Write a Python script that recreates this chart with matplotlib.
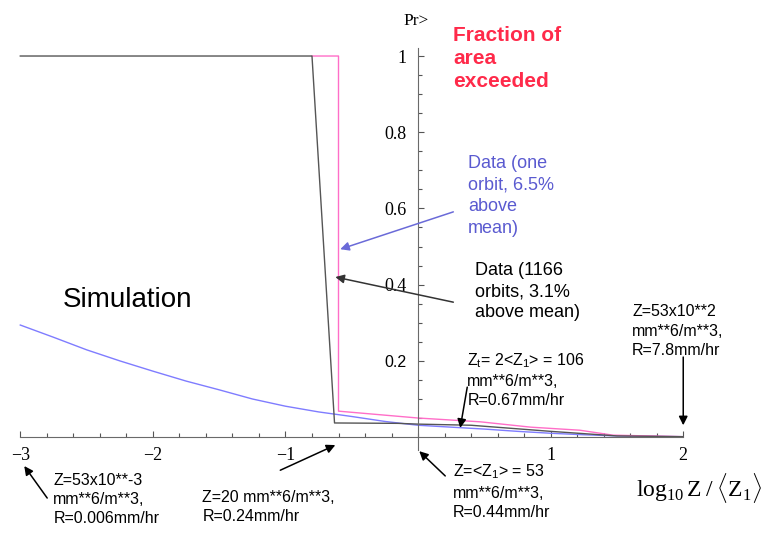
import matplotlib
matplotlib.use("Agg")
import matplotlib.pyplot as plt

plt.rcParams["mathtext.fontset"] = "custom"
plt.rcParams["mathtext.rm"] = "Liberation Serif"
plt.rcParams["mathtext.it"] = "Liberation Serif:italic"
plt.rcParams["mathtext.bf"] = "Liberation Serif:bold"
plt.rcParams["mathtext.sf"] = "Liberation Sans"

# Simulated exceedance curve
sim_x = [-3.0, -2.75, -2.5, -2.25, -2.0, -1.75, -1.5, -1.25, -1.0, -0.75, -0.5,
         -0.25, 0.0, 0.25, 0.5, 0.75, 1.0, 1.25, 1.5, 1.75, 2.0]
sim_y = [0.294, 0.262, 0.229, 0.200, 0.173, 0.147, 0.124, 0.100, 0.081, 0.066, 0.054,
         0.041, 0.031, 0.026, 0.021, 0.015, 0.010, 0.006, 0.003, 0.002, 0.001]

# Data, one orbit
one_x = [-0.80, -0.60, -0.60, 0.0, 0.47, 0.85, 1.22, 1.47, 2.0]
one_y = [1.0, 1.0, 0.068, 0.050, 0.040, 0.026, 0.018, 0.005, 0.001]

# Data, 1166 orbits
many_x = [-3.0, -0.80, -0.63, -0.15, 0.0, 0.4, 1.0, 1.5, 2.0]
many_y = [1.0, 1.0, 0.037, 0.036, 0.034, 0.031, 0.015, 0.003, 0.001]

x_ticks = [-3, -2, -1, 1, 2]
x_tick_labels = ["\u22123", "\u22122", "\u22121", "1", "2"]
y_ticks = [0.2, 0.4, 0.6, 0.8, 1.0]
y_tick_labels = ["0.2", "0.4", "0.6", "0.8", "1"]

fig = plt.figure(figsize=(7.62, 5.35), dpi=100)
ax = fig.add_axes([0, 0, 1, 1])
ax.set_xlim(-3.153, 2.594)
ax.set_ylim(-0.257, 1.147)

ax.plot(sim_x, sim_y, color="#7f7cff", lw=1.0)
ax.plot(one_x, one_y, color="#ff6ec8", lw=1.0)
ax.plot(many_x, many_y, color="#555555", lw=1.0)

# axes through the origin
for s in ["top", "right"]:
    ax.spines[s].set_visible(False)
ax.spines["bottom"].set_position(("data", 0))
ax.spines["bottom"].set_bounds(-3, 2)
ax.spines["left"].set_position(("data", 0))
ax.spines["left"].set_bounds(-0.034, 1.021)
for s in ["bottom", "left"]:
    ax.spines[s].set_color("#6a6a6a")
    ax.spines[s].set_linewidth(0.8)

ax.set_xticks(x_ticks, labels=x_tick_labels)
ax.set_xticks([v / 5 for v in range(-15, 11)], minor=True)
ax.set_yticks(y_ticks, labels=y_tick_labels)
ax.set_yticks([v / 20 for v in range(1, 21)], minor=True)
ax.tick_params(axis="both", which="both", direction="in", color="#555555", width=0.8)
ax.tick_params(axis="both", which="major", length=4.5)
ax.tick_params(axis="both", which="minor", length=3)
ax.tick_params(axis="x", which="major", pad=7, labelsize=13)
ax.tick_params(axis="y", which="major", pad=8, labelsize=13)
for lab in ax.get_xticklabels() + ax.get_yticklabels():
    lab.set_fontfamily("Liberation Serif")
ax.get_yticklabels()[0].set_fontfamily("Liberation Sans")
ax.get_yticklabels()[0].set_fontsize(11.5)

# axis titles
ax.text(-0.112, 1.113, "Pr>", family="Liberation Serif", fontsize=12.5,
        ha="left", va="top")
ax.text(1.64, -0.09, r"$\mathrm{log_{10}\,Z\;/\;\langle Z_1\rangle}$",
        fontsize=17, ha="left", va="top")

sans = "Liberation Sans"
ax.text(0.267, 1.079, "Fraction of\narea\nexceeded", family=sans, weight="bold",
        fontsize=15, color="#ff2a4a", ha="left", va="top", linespacing=1.27)
ax.text(0.378, 0.740, "Data (one\norbit, 6.5%\nabove\nmean)", family=sans,
        fontsize=13, color="#5a5ad0", ha="left", va="top", linespacing=1.36)
ax.text(0.431, 0.460, "Data (1166\norbits, 3.1%\nabove mean)", family=sans,
        fontsize=13, color="black", ha="left", va="top", linespacing=1.33)
ax.text(-2.683, 0.395, "Simulation", family=sans, fontsize=20, ha="left", va="top")

small = dict(family=sans, fontsize=11.5, ha="left", va="top", linespacing=1.36)
ax.text(-2.751, -0.093, "Z=53x10**-3\nmm**6/m**3,\nR=0.006mm/hr", **small)
ax.text(-1.626, -0.138, "Z=20 mm**6/m**3,\nR=0.24mm/hr", **small)
ax.text(0.265, -0.068, "Z=<Z$_\\mathsf{1}$> = 53\nmm**6/m**3,\nR=0.44mm/hr", **small)
ax.text(0.371, 0.225, "Z$_\\mathsf{t}$= 2<Z$_\\mathsf{1}$> = 106\nmm**6/m**3,\nR=0.67mm/hr", **small)
ax.text(1.615, 0.348, "Z=53x10**2\nmm**6/m**3,\nR=7.8mm/hr", **small)

arrows = [
    ((-2.797, -0.160), (-2.970, -0.076), "black"),
    ((-1.039, -0.087), (-0.624, -0.021), "black"),
    ((0.205, -0.102), (0.009, -0.037), "black"),
    ((0.371, 0.131), (0.318, 0.024), "black"),
    ((2.0, 0.210), (2.0, 0.031), "black"),
    ((0.266, 0.591), (-0.587, 0.493), "#6a6ad8"),
    ((0.266, 0.354), (-0.624, 0.420), "#333333"),
]
for (x0, y0), (x1, y1), c in arrows:
    ax.annotate("", xy=(x1, y1), xytext=(x0, y0),
                arrowprops=dict(arrowstyle="-|>", color=c, lw=1.1,
                                mutation_scale=13, shrinkA=0, shrinkB=0))

fig.savefig("out.png", dpi=100)
